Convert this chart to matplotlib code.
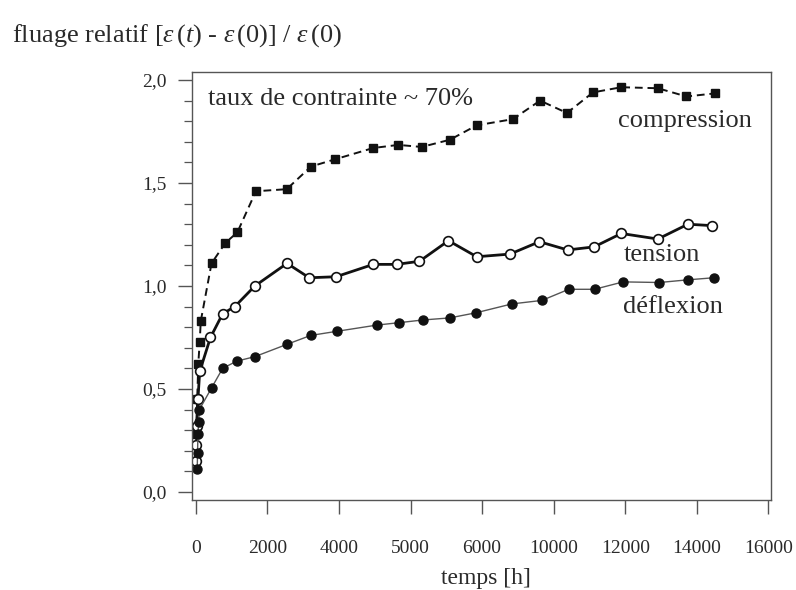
import matplotlib
matplotlib.use("Agg")
import matplotlib.pyplot as plt
from matplotlib.ticker import FixedLocator, FixedFormatter, MultipleLocator

# data (temps in h, fluage relatif)
t_compression = [10, 40, 70, 110, 140, 440, 830, 1160, 1680, 2540, 3220, 3890,
                 4960, 5660, 6310, 7100, 7850, 8860, 9620, 10370, 11100, 11890,
                 12910, 13710, 14500]
compression = [0.28, 0.45, 0.62, 0.73, 0.83, 1.11, 1.21, 1.26, 1.46, 1.47, 1.58,
               1.615, 1.67, 1.685, 1.675, 1.71, 1.78, 1.81, 1.90, 1.84, 1.94,
               1.965, 1.96, 1.92, 1.935]

t_tension = [10, 20, 30, 60, 110, 410, 750, 1090, 1650, 2550, 3170, 3920, 4960,
             5610, 6250, 7060, 7850, 8780, 9600, 10390, 11130, 11890, 12910,
             13750, 14430]
tension = [0.15, 0.23, 0.32, 0.45, 0.585, 0.75, 0.865, 0.90, 1.00, 1.11, 1.04,
           1.045, 1.105, 1.105, 1.12, 1.22, 1.142, 1.155, 1.215, 1.175, 1.19,
           1.255, 1.228, 1.30, 1.293]

t_deflexion = [40, 50, 60, 80, 100, 440, 750, 1140, 1650, 2550, 3210, 3940, 5050,
               5680, 6340, 7090, 7830, 8830, 9670, 10420, 11140, 11940, 12950,
               13750, 14470]
deflexion = [0.11, 0.19, 0.28, 0.34, 0.40, 0.505, 0.60, 0.635, 0.657, 0.717,
             0.76, 0.78, 0.81, 0.822, 0.835, 0.845, 0.87, 0.913, 0.93, 0.984,
             0.984, 1.02, 1.017, 1.03, 1.04]

x_ticks = [0, 2000, 4000, 6000, 8000, 10000, 12000, 14000, 16000]
x_tick_labels = ["0", "2000", "4000", "5000", "6000", "10000", "12000", "14000", "16000"]
y_ticks = [0.0, 0.5, 1.0, 1.5, 2.0]
y_tick_labels = ["0,0", "0,5", "1,0", "1,5", "2,0"]

plt.rcParams['font.family'] = ['Liberation Serif', 'DejaVu Serif']
plt.rcParams['mathtext.fontset'] = 'custom'
plt.rcParams['mathtext.rm'] = 'Liberation Serif'
plt.rcParams['mathtext.it'] = 'Liberation Serif:italic'

txt = '#2a2a2a'

fig = plt.figure(figsize=(7.96, 5.90), dpi=100)
ax = fig.add_axes([0.241, 0.1525, 0.728, 0.7255])

ax.plot(t_compression, compression, color='#111111', linestyle=(0, (4, 2.5)),
        linewidth=1.4, marker='s', markersize=5.5, markerfacecolor='#111111',
        markeredgecolor='#111111')
ax.plot(t_tension, tension, color='#111111', linestyle='-', linewidth=2.0,
        marker='o', markersize=7, markerfacecolor='white',
        markeredgecolor='#111111', markeredgewidth=1.2)
ax.plot(t_deflexion, deflexion, color='#555555', linestyle='-', linewidth=1.0,
        marker='o', markersize=6.5, markerfacecolor='#111111',
        markeredgecolor='#111111')

ax.set_xlim(-110, 16080)
ax.set_ylim(-0.039, 2.039)

ax.xaxis.set_major_locator(FixedLocator(x_ticks))
ax.xaxis.set_major_formatter(FixedFormatter(x_tick_labels))
ax.yaxis.set_major_locator(FixedLocator(y_ticks))
ax.yaxis.set_major_formatter(FixedFormatter(y_tick_labels))
ax.yaxis.set_minor_locator(MultipleLocator(0.1))

ax.tick_params(axis='x', direction='out', length=10, width=1.0, pad=19,
               labelsize=14, colors='#555555', labelcolor=txt)
ax.tick_params(axis='y', which='major', direction='out', length=10, width=1.0,
               pad=8, labelsize=14, colors='#555555', labelcolor=txt)
ax.tick_params(axis='y', which='minor', direction='out', length=6, width=0.9,
               colors='#555555')
ax.tick_params(top=False, right=False)

for s in ax.spines.values():
    s.set_color('#555555')
    s.set_linewidth(1.0)

ax.text(340, 1.91, "taux de contrainte ~ 70%", fontsize=19, color=txt,
        va='center', ha='left')
ax.text(15550, 1.80, "compression", fontsize=19, color=txt, va='center', ha='right')
ax.text(11950, 1.15, "tension", fontsize=19, color=txt, va='center', ha='left')
ax.text(11950, 0.90, "déflexion", fontsize=19, color=txt, va='center', ha='left')

fig.text(0.015, 0.94, r"fluage relatif [$\varepsilon\,(t)$ - $\varepsilon\,(0)$] / $\varepsilon\,(0)$",
         fontsize=19, color=txt, ha='left', va='center')
fig.text(0.61, 0.02, "temps [h]", fontsize=17, color=txt, ha='center', va='center')

fig.savefig("out.png", dpi=100)
